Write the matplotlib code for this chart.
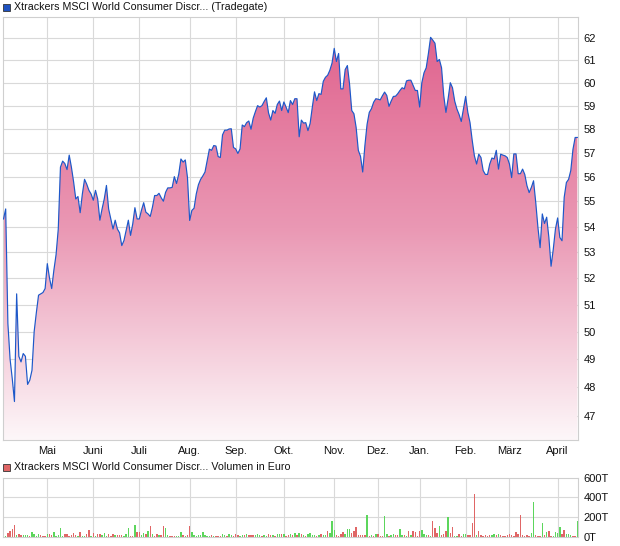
import matplotlib
matplotlib.use("Agg")
import matplotlib.pyplot as plt
from matplotlib.colors import LinearSegmentedColormap
from matplotlib.patches import Rectangle
from matplotlib.ticker import FixedLocator, NullLocator, NullFormatter
import numpy as np
import pandas as pd

plt.rcParams['font.family'] = ['Liberation Sans', 'DejaVu Sans']

# trading days on Tradegate, 01.04.2025 - 16.04.2026
holidays = ['2025-04-18', '2025-04-21', '2025-05-01', '2025-12-24', '2025-12-25',
            '2025-12-26', '2025-12-31', '2026-01-01', '2026-04-03', '2026-04-06']
dates = pd.bdate_range('2025-04-01', '2026-04-16', freq='C', holidays=holidays)

price = [
    54.3, 54.7, 50.3, 49.0, 48.3, 47.5, 51.4, 49.1, 48.9, 49.2,
    49.1, 48.1, 48.25, 48.6, 50.0, 50.7, 51.35, 51.4, 51.45, 51.6,
    52.55, 52.0, 51.6, 52.3, 52.9, 53.9, 56.4, 56.65, 56.55, 56.3,
    56.9, 56.4, 55.8, 55.1, 55.2, 54.55, 55.3, 55.9, 55.7, 55.45,
    55.3, 55.05, 55.45, 55.1, 54.25, 54.7, 55.1, 55.65, 54.7, 54.3,
    53.9, 54.25, 53.9, 53.75, 53.25, 53.45, 53.85, 54.25, 53.65, 54.1,
    54.75, 54.3, 54.3, 54.65, 54.95, 54.57, 54.5, 54.4, 54.77, 55.24,
    55.24, 55.33, 55.15, 55.01, 55.37, 55.55, 55.55, 55.57, 56.01, 55.73,
    56.11, 56.74, 56.61, 56.7, 55.97, 54.24, 54.64, 54.73, 55.3, 55.68,
    55.9, 56.04, 56.2, 56.67, 57.15, 57.1, 57.3, 57.28, 56.84, 56.8,
    57.75, 57.95, 57.95, 58.0, 58.01, 57.22, 57.16, 56.97, 57.16, 58.17,
    58.1, 58.27, 58.34, 57.99, 58.46, 58.74, 59.0, 58.94, 59.0, 59.18,
    59.34, 58.69, 58.38, 58.79, 58.67, 59.05, 59.2, 58.79, 59.16, 58.94,
    58.7, 59.22, 59.05, 59.3, 59.3, 57.67, 58.38, 58.25, 58.27, 57.93,
    58.24, 58.94, 59.6, 59.22, 59.52, 59.49, 60.06, 60.24, 60.33, 60.55,
    60.87, 61.53, 60.94, 61.3, 59.73, 59.73, 60.58, 60.76, 59.94, 58.79,
    58.65, 58.07, 57.1, 56.85, 56.2, 57.3, 58.2, 58.71, 58.87, 59.15,
    59.3, 59.28, 59.25, 59.43, 59.59, 59.44, 58.97, 59.2, 59.4, 59.41,
    59.52, 59.66, 59.78, 59.73, 60.08, 60.11, 60.11, 59.89, 59.66, 59.66,
    58.94, 60.0, 60.44, 60.66, 61.3, 62.03, 61.9, 61.76, 60.94, 61.03,
    60.66, 59.44, 58.71, 59.3, 60.0, 59.78, 59.2, 58.86, 58.62, 58.32,
    58.86, 59.4, 58.71, 58.27, 57.52, 56.87, 56.53, 56.94, 56.8, 56.26,
    56.1, 56.1, 56.53, 56.78, 56.74, 57.1, 56.32, 56.94, 56.9, 56.87,
    56.8, 56.53, 55.97, 56.95, 56.95, 56.13, 56.13, 56.32, 56.1, 55.64,
    55.36, 55.57, 55.84, 54.97, 53.97, 53.17, 54.5, 54.12, 54.37, 53.57,
    52.45, 53.1, 53.9, 54.34, 53.57, 53.44, 55.17, 55.77, 55.9, 56.26,
    57.14, 57.64, 57.64,
]

# daily volume in thousand euro (T)
volume = [
    24, 10, 38, 55, 79, 120, 14, 24, 14, 14,
    14, 14, 7, 48, 24, 7, 24, 14, 7, 7,
    27, 27, 17, 48, 7, 14, 89, 10, 24, 24,
    7, 20, 38, 14, 7, 48, 7, 7, 27, 68,
    7, 34, 10, 27, 27, 14, 38, 10, 27, 10,
    24, 17, 14, 17, 17, 10, 31, 89, 7, 7,
    120, 48, 48, 14, 38, 27, 58, 109, 27, 7,
    27, 14, 14, 109, 89, 14, 7, 7, 7, 7,
    7, 48, 17, 7, 17, 109, 48, 14, 7, 14,
    14, 48, 14, 7, 7, 17, 7, 7, 7, 7,
    27, 14, 7, 27, 17, 7, 27, 14, 7, 17,
    17, 27, 14, 17, 17, 17, 27, 17, 7, 17,
    7, 27, 17, 17, 7, 27, 27, 27, 27, 7,
    14, 27, 17, 38, 14, 38, 27, 17, 7, 24,
    38, 17, 14, 7, 14, 27, 17, 17, 58, 38,
    161, 68, 14, 7, 27, 48, 27, 79, 79, 38,
    58, 99, 17, 17, 17, 17, 222, 7, 17, 7,
    27, 27, 7, 7, 212, 27, 7, 17, 27, 17,
    17, 82, 17, 17, 7, 58, 17, 58, 48, 7,
    58, 68, 27, 17, 17, 7, 161, 89, 38, 109,
    17, 27, 58, 202, 38, 99, 7, 7, 27, 7,
    27, 27, 17, 17, 140, 438, 17, 58, 17, 7,
    17, 7, 17, 17, 27, 17, 27, 17, 7, 7,
    17, 27, 17, 7, 48, 27, 222, 17, 7, 17,
    7, 38, 356, 17, 7, 7, 144, 17, 48, 58,
    7, 7, 48, 38, 99, 27, 68, 27, 27, 17,
    7, 7, 161,
]

# u = green bar, d = red bar
vol_dir = ("uudddduddu" "uuduuuuddd" "udduuuuudd" "dddduduudd" "ududduuudd"
           "duddduuudd" "udduududud" "dudduudddu" "uududduuuu" "uuuuududdd"
           "uuduuddduu" "duddduuudu" "udduduudud" "dududududu"
           "uuududuudu" "uudddduuud" "ddddddudud" "uddduuduud" "duudududdd"
           "duuududddu" "dddudduudd" "uudddduddd" "ddduududdd" "dddddddddd"
           "duudddudud" "duuuudduuu" "ddu")

month_names = ['Mai', 'Juni', 'Juli', 'Aug.', 'Sep.', 'Okt.', 'Nov.', 'Dez.',
               'Jan.', 'Feb.', 'März', 'April']

x = np.arange(len(price))
month_pos = [i for i in range(1, len(dates)) if dates[i].month != dates[i - 1].month]

grid_c = '#d9d9d9'
line_c = '#1d58c9'

fig = plt.figure(figsize=(6.2, 5.46), dpi=100)
W, H = 620.0, 546.0

# ---------------- price panel ----------------
ax = fig.add_axes([3 / W, 1 - 440 / H, 575 / W, 423 / H])
ax.set_yscale('log')
ymin, ymax = 46.18, 62.96

poly = ax.fill_between(x, price, ymin, color='none', lw=0)
cmap = LinearSegmentedColormap.from_list('pink', ['#df5f8b', '#ea98b4', '#fdf7f9'])
grad = np.linspace(0, 1, 256)[:, None]
im = ax.imshow(grad, extent=[0, 1, 0, 1], transform=ax.transAxes, aspect='auto',
               cmap=cmap, zorder=1, interpolation='bilinear')
im.set_clip_path(poly.get_paths()[0], transform=ax.transData)
ax.plot(x, price, color=line_c, lw=0.85, zorder=3)

ax.set_xlim(-0.23, 262.3)
ax.set_ylim(ymin, ymax)

levels = list(range(47, 63))
for lv in levels:
    ax.axhline(lv, color=grid_c, lw=0.8, zorder=0)
for mp in month_pos:
    ax.axvline(mp, color=grid_c, lw=0.8, zorder=0)

ax.yaxis.tick_right()
ax.yaxis.set_major_locator(FixedLocator(levels))
ax.yaxis.set_minor_locator(NullLocator())
ax.yaxis.set_minor_formatter(NullFormatter())
ax.set_yticklabels([str(v) for v in levels])
ax.set_xticks(month_pos)
ax.set_xticklabels(month_names)
ax.tick_params(length=0, labelsize=8, colors='#111111')
ax.tick_params(axis='y', pad=4)
ax.tick_params(axis='x', pad=4)
for s in ax.spines.values():
    s.set_color('#cfcfcf')
    s.set_linewidth(0.8)

fig.patches.append(Rectangle((3 / W, 1 - 11 / H), 7 / W, 7 / H, transform=fig.transFigure,
                             facecolor='#1f52c0', edgecolor='#333333', lw=0.6))
fig.text(14 / W, 1 - 7.5 / H, 'Xtrackers MSCI World Consumer Discr... (Tradegate)',
         fontsize=7.7, va='center', ha='left', color='#111111')

# ---------------- volume panel ----------------
vax = fig.add_axes([3 / W, 1 - 536.7 / H, 575 / W, 59 / H])
bar_colors = ['#5cd65c' if d == 'u' else '#e06666' for d in vol_dir]
vax.bar(x, volume, width=0.65, color=bar_colors, lw=0, zorder=2)
vax.set_xlim(-0.23, 262.3)
vax.set_ylim(0, 600)
for lv in [200, 400]:
    vax.axhline(lv, color=grid_c, lw=0.8, zorder=0)
for mp in month_pos:
    vax.axvline(mp, color=grid_c, lw=0.8, zorder=0)
vax.yaxis.tick_right()
vax.set_yticks([0, 200, 400, 600])
vax.set_yticklabels(['0T', '200T', '400T', '600T'])
vax.set_xticks([])
vax.tick_params(length=0, labelsize=8, colors='#111111', pad=4)
for s in vax.spines.values():
    s.set_color('#cfcfcf')
    s.set_linewidth(0.8)

fig.patches.append(Rectangle((3 / W, 1 - 471 / H), 7 / W, 7 / H, transform=fig.transFigure,
                             facecolor='#e06666', edgecolor='#333333', lw=0.6))
fig.text(14 / W, 1 - 467.5 / H, 'Xtrackers MSCI World Consumer Discr... Volumen in Euro',
         fontsize=7.7, va='center', ha='left', color='#111111')

fig.savefig('out.png', dpi=100)
